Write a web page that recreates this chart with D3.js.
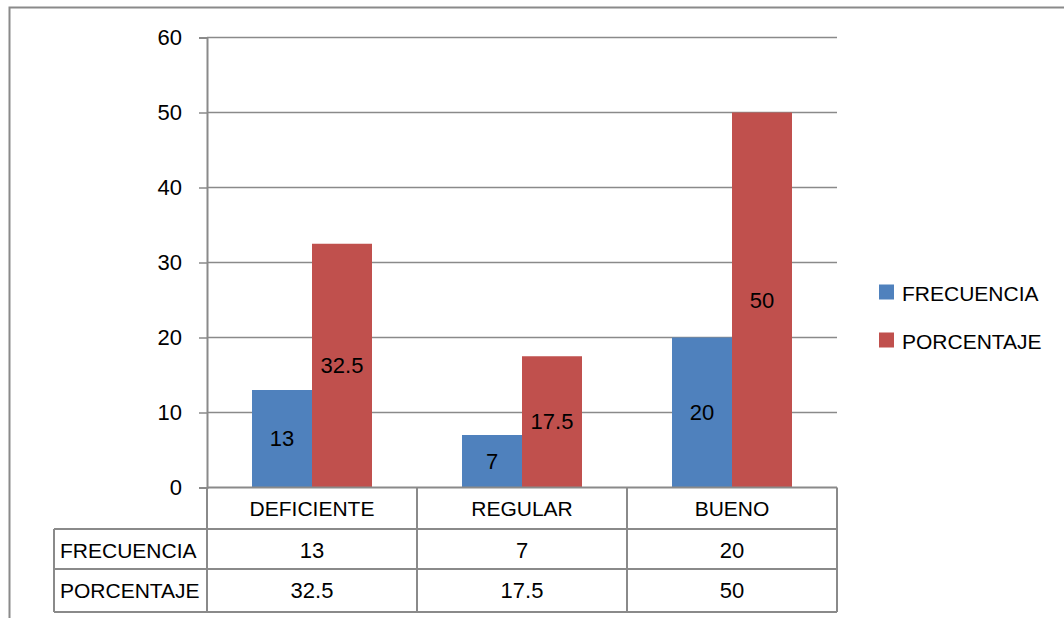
<!DOCTYPE html>
<html>
<head>
<meta charset="utf-8">
<script src="https://cdn.jsdelivr.net/npm/d3@7"></script>
<style>
  html, body { margin: 0; padding: 0; background: #fff; }
  svg { display: block; }
  text { font-family: "Liberation Sans", Arial, sans-serif; fill: #000; }
</style>
</head>
<body>
<svg id="chart" width="1064" height="618"></svg>
<script>
const categories = ["DEFICIENTE", "REGULAR", "BUENO"];
const seriesNames = ["FRECUENCIA", "PORCENTAJE"];
const frecuencia = [13, 7, 20];
const porcentaje = [32.5, 17.5, 50];
const yTicks = [0, 10, 20, 30, 40, 50, 60];
const colors = ["#4F81BD", "#C0504D"];

const seriesValues = [frecuencia, porcentaje];
const FS = "21px";
const FSN = "22px";

const svg = d3.select("#chart");
const lineColor = "#8a8a8a";

// outer border
svg.append("rect").attr("x", 9.5).attr("y", 7.5).attr("width", 1100).attr("height", 700)
  .attr("fill", "none").attr("stroke", lineColor).attr("stroke-width", 2);

const plotLeft = 207, plotRight = 837, plotTop = 37.5, plotBottom = 487.5;

const y = d3.scaleLinear().domain([0, 60]).range([plotBottom, plotTop]);
const x0 = d3.scaleBand().domain(categories).range([plotLeft, plotRight]).padding(0);
const bw = x0.bandwidth();
const x1 = d3.scaleBand().domain(seriesNames).range([bw * 45 / 210, bw * 165 / 210]).padding(0);

// gridlines
svg.append("g").selectAll("line").data(yTicks.filter(d => d > 0)).join("line")
  .attr("x1", plotLeft).attr("x2", plotRight)
  .attr("y1", d => y(d)).attr("y2", d => y(d))
  .attr("stroke", lineColor).attr("stroke-width", 1.5);

// y axis
const yAxis = d3.axisLeft(y).tickValues(yTicks).tickSize(8).tickPadding(17).tickFormat(d3.format("d"));
const gy = svg.append("g").attr("transform", `translate(${plotLeft},0)`).call(yAxis);
gy.select(".domain").attr("stroke", lineColor).attr("stroke-width", 2);
gy.selectAll(".tick line").attr("stroke", lineColor).attr("stroke-width", 1.5);
gy.selectAll(".tick text").style("font-family", '"Liberation Sans", Arial, sans-serif')
  .style("font-size", FSN).attr("fill", "#000");

// bars
const groups = svg.append("g").selectAll("g").data(categories).join("g")
  .attr("transform", d => `translate(${x0(d)},0)`);

groups.each(function(cat, i) {
  const g = d3.select(this);
  seriesNames.forEach((s, j) => {
    const v = seriesValues[j][i];
    g.append("rect")
      .attr("x", x1(s)).attr("width", x1.bandwidth())
      .attr("y", y(v)).attr("height", y(0) - y(v))
      .attr("fill", colors[j]);
    g.append("text")
      .attr("x", x1(s) + x1.bandwidth() / 2)
      .attr("y", (y(v) + y(0)) / 2)
      .attr("text-anchor", "middle").attr("dominant-baseline", "central")
      .style("font-size", FSN)
      .text(v);
  });
});

// data table
const rowTop = plotBottom, row1 = 529, row2 = 569, rowBottom = 612, tableLeft = 54;
const tg = svg.append("g");
const hl = (x1_, x2_, yy) => tg.append("line").attr("x1", x1_).attr("x2", x2_).attr("y1", yy).attr("y2", yy)
  .attr("stroke", lineColor).attr("stroke-width", 2);
const vl = (xx, y1_, y2_) => tg.append("line").attr("x1", xx).attr("x2", xx).attr("y1", y1_).attr("y2", y2_)
  .attr("stroke", lineColor).attr("stroke-width", 2);

hl(plotLeft, plotRight, rowTop);
hl(tableLeft, plotRight, row1);
hl(tableLeft, plotRight, row2);
hl(tableLeft, plotRight, rowBottom);
vl(tableLeft, row1, rowBottom);
categories.forEach(c => vl(x0(c), rowTop, rowBottom));
vl(plotRight, rowTop, rowBottom);

tg.selectAll("text.cat").data(categories).join("text").attr("class", "cat")
  .attr("x", d => x0(d) + bw / 2).attr("y", (rowTop + row1) / 2)
  .attr("text-anchor", "middle").attr("dominant-baseline", "central")
  .style("font-size", FS).text(d => d);

const rowYs = [(row1 + row2) / 2 + 1, (row2 + rowBottom) / 2];
seriesNames.forEach((s, j) => {
  tg.append("text").attr("x", 60).attr("y", rowYs[j])
    .attr("dominant-baseline", "central").style("font-size", FS).text(s);
  tg.selectAll(null).data(categories).join("text")
    .attr("x", d => x0(d) + bw / 2).attr("y", rowYs[j])
    .attr("text-anchor", "middle").attr("dominant-baseline", "central")
    .style("font-size", FSN).text((d, i) => seriesValues[j][i]);
});

// legend
const legY = [292, 340];
const lg = svg.append("g");
seriesNames.forEach((s, j) => {
  lg.append("rect").attr("x", 879).attr("y", legY[j] - 7.5).attr("width", 15).attr("height", 15).attr("fill", colors[j]);
  lg.append("text").attr("x", 902).attr("y", legY[j] + 1).attr("dominant-baseline", "central")
    .style("font-size", FS).text(s);
});
</script>
</body>
</html>
